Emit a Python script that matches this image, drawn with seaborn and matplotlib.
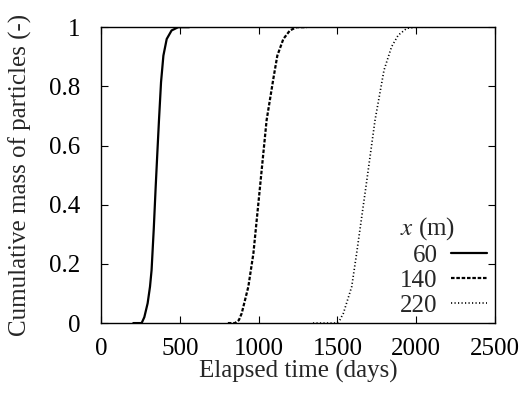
import matplotlib
matplotlib.use("Agg")
import matplotlib.pyplot as plt
import seaborn as sns
import pandas as pd

# Data
t60 = [205, 258, 275, 296, 311, 321, 335, 347, 358, 368, 381, 396, 417, 448, 490, 560]
m60 = [0.0, 0.0, 0.02, 0.067, 0.123, 0.179, 0.32, 0.46, 0.58, 0.686, 0.814, 0.904, 0.96, 0.989, 1.0, 1.0]
t140 = [805, 850, 875, 893, 935, 967, 1009, 1051, 1095, 1119, 1157, 1199, 1241, 1305]
m140 = [0.0, 0.0, 0.01, 0.033, 0.123, 0.235, 0.46, 0.686, 0.83, 0.904, 0.96, 0.989, 1.0, 1.0]
t220 = [1345, 1496, 1515, 1538, 1591, 1622, 1681, 1739, 1796, 1844, 1886, 1940, 2000, 2105]
m220 = [0.0, 0.0, 0.01, 0.033, 0.123, 0.235, 0.46, 0.686, 0.855, 0.934, 0.973, 0.996, 1.0, 1.0]
labels = ["60", "140", "220"]
x_ticks = [0, 500, 1000, 1500, 2000, 2500]
y_ticks = [0, 0.2, 0.4, 0.6, 0.8, 1]
y_ticklabels = ["0", "0.2", "0.4", "0.6", "0.8", "1"]

frames = []
for lab, t, m in zip(labels, [t60, t140, t220], [m60, m140, m220]):
    frames.append(pd.DataFrame({"t": t, "m": m, "x": lab}))
df = pd.concat(frames, ignore_index=True)

sns.set_theme(style="ticks")
plt.rcParams["font.family"] = ["Liberation Serif", "DejaVu Serif"]
plt.rcParams["mathtext.fontset"] = "stix"

fig = plt.figure(figsize=(5.26, 3.94), dpi=100)
ax = fig.add_axes([0.192, 0.180, 0.749, 0.751])

sns.lineplot(data=df, x="t", y="m", style="x", color="black",
             dashes={"60": "", "140": (1.6, 0.8), "220": (0.7, 1.4)},
             linewidth=1.6, ax=ax, legend=False, sort=False)
lines = ax.get_lines()
lines[2].set_linewidth(1.2)

ax.set_xlim(0, 2500)
ax.set_ylim(0, 1)
ax.set_xticks(x_ticks)
ax.set_xticklabels([str(v) for v in x_ticks])
ax.set_yticks(y_ticks)
ax.set_yticklabels(y_ticklabels)
ax.tick_params(direction="in", length=5, width=0.8, top=True, right=True,
               labelsize=18, colors="black")
ax.tick_params(axis="y", pad=15)
ax.tick_params(axis="x", pad=11)
for s in ax.spines.values():
    s.set_linewidth(1.0)
    s.set_color("black")
ax.set_xlabel("Elapsed time (days)", fontsize=18, labelpad=0)
ax.set_ylabel("Cumulative mass of particles (-)", fontsize=18, labelpad=12)

leg = ax.legend(lines, labels, title="$x$ (m)", loc="lower right",
                bbox_to_anchor=(1.0, -0.005), frameon=False, markerfirst=False,
                fontsize=18, title_fontsize=18, handlelength=1.45,
                handletextpad=0.55, labelspacing=0.1, borderaxespad=0.3,
                borderpad=0.0)
for txt in leg.get_texts():
    txt.set_ha("right")
leg._legend_box.align = "left"

fig.savefig("out.png", dpi=100)
